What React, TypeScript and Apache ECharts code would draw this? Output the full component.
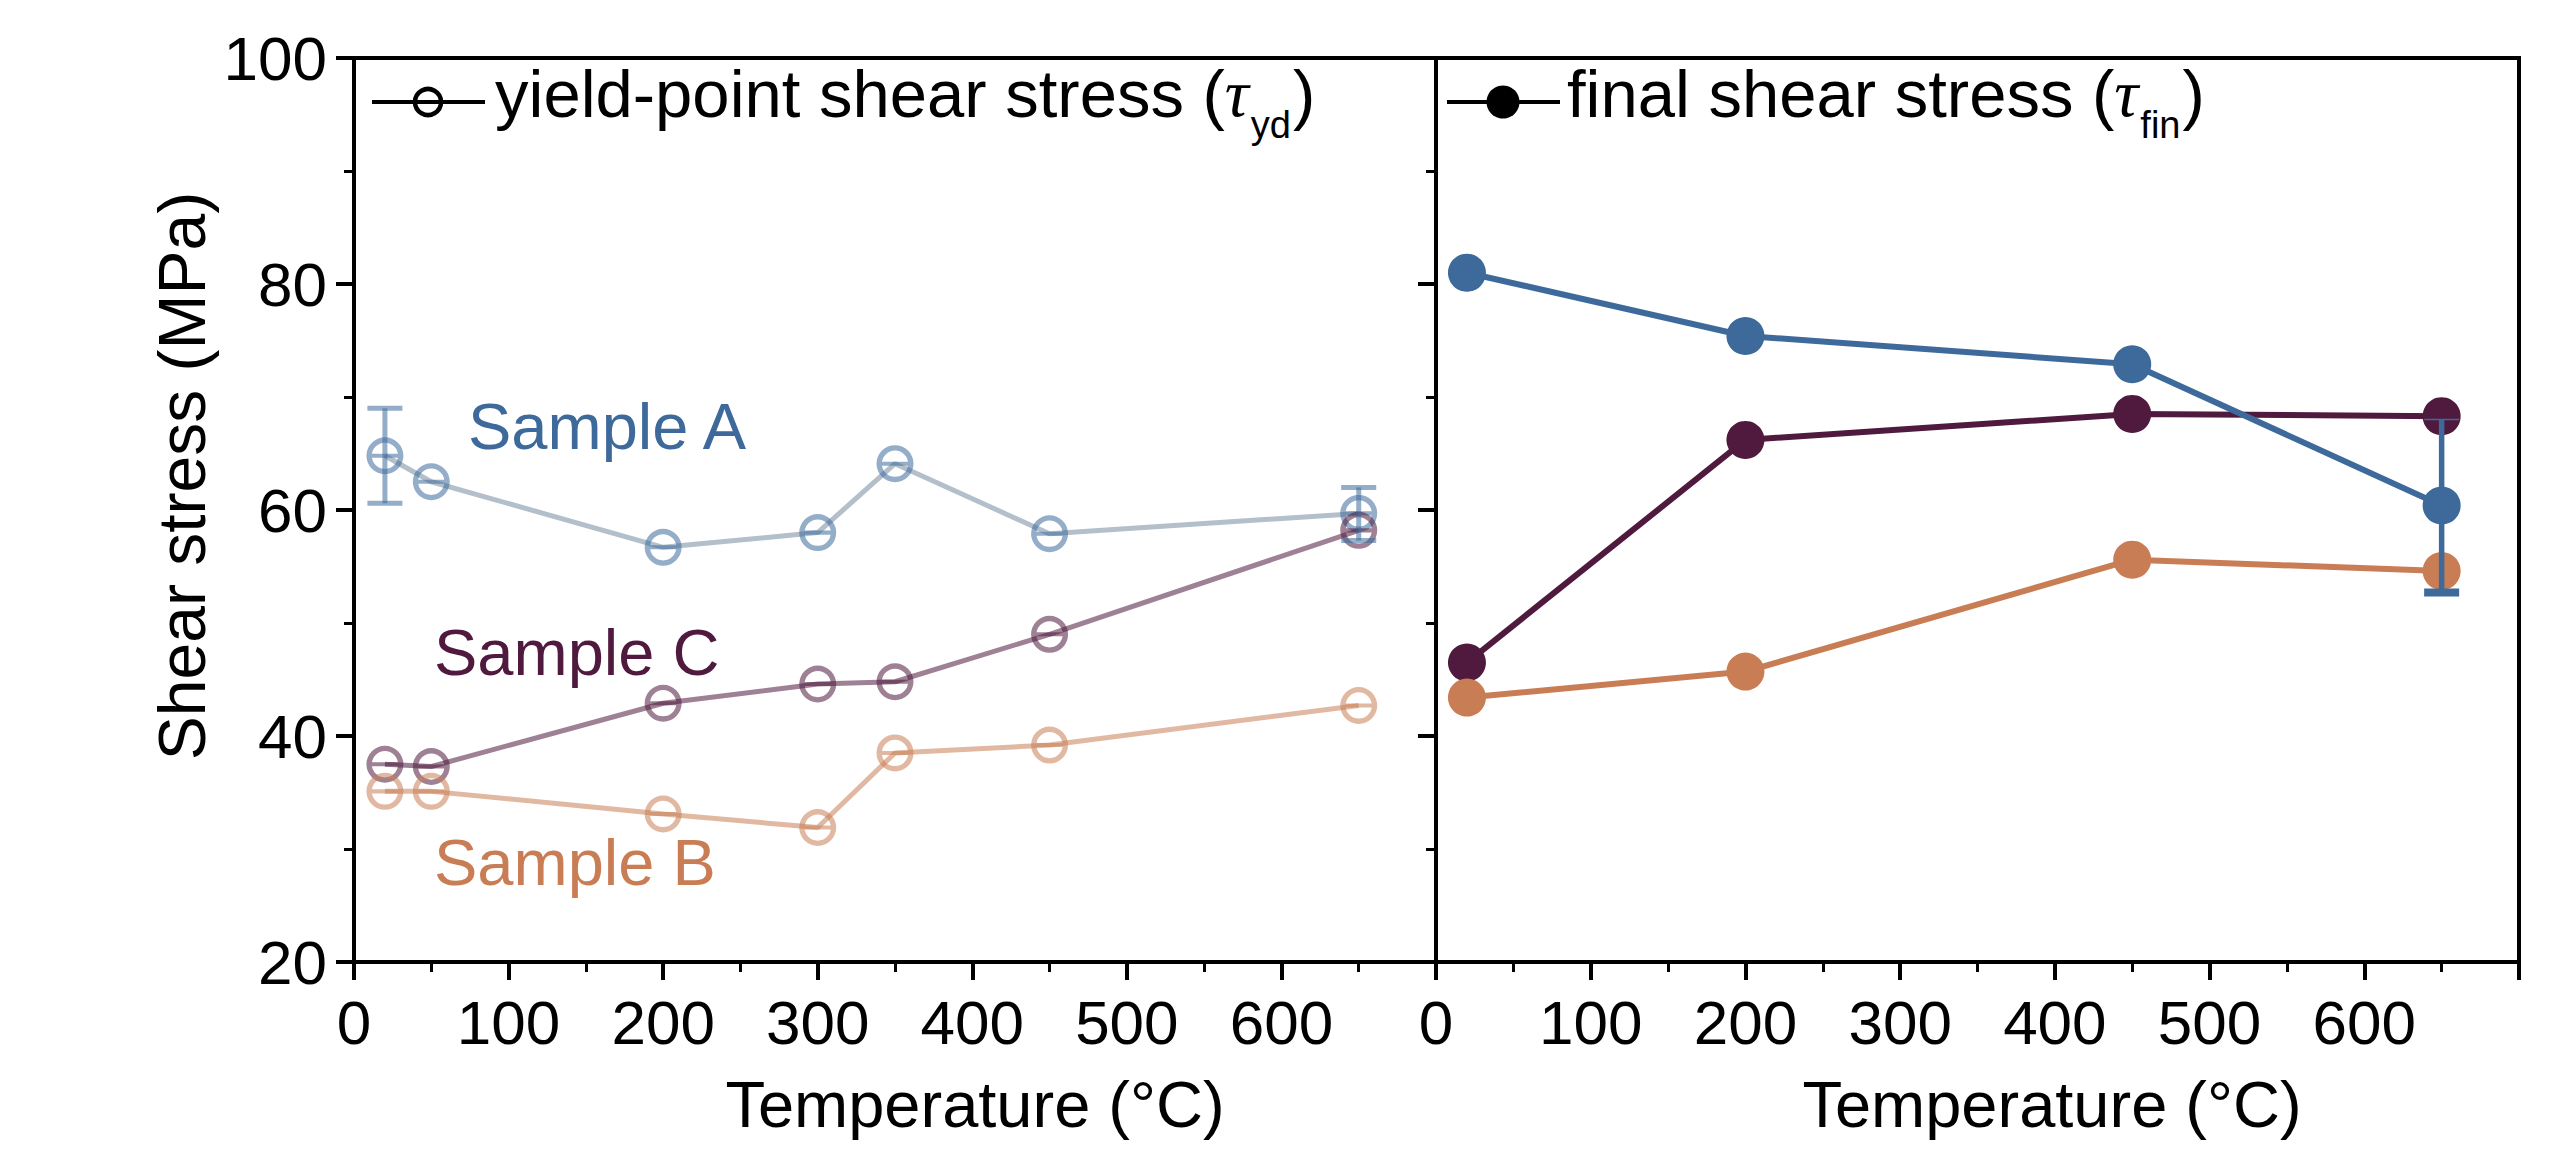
import React, { useEffect, useRef } from 'react';
import * as echarts from 'echarts';

// ---------------- data ----------------
const yieldTemps = [20, 50, 200, 300, 350, 450, 650];
const yieldA = [64.8, 62.5, 56.7, 58.0, 64.1, 57.9, 59.7];
const yieldB = [35.1, 35.1, 33.1, 31.9, 38.5, 39.2, 42.7];
const yieldC = [37.5, 37.3, 42.9, 44.6, 44.8, 49.0, 58.2];
const yieldAErrTemps = [20, 650];
const yieldAErrLow = [60.6, 57.3];
const yieldAErrHigh = [69.0, 62.0];

const finalTemps = [20, 200, 450, 650];
const finalA = [81.0, 75.4, 72.9, 60.4];
const finalB = [43.4, 45.7, 55.6, 54.6];
const finalC = [46.5, 66.2, 68.5, 68.3];
const finalAErrTemps = [650];
const finalAErrLow = [52.7];
const finalAErrHigh = [68.0];

const xMin = 0;
const xMax = 700;
const xStep = 100;
const yMin = 20;
const yMax = 100;
const yStep = 20;

const sampleLabels = ['Sample A', 'Sample C', 'Sample B'];
const yieldLegend = 'yield-point shear stress (';
const finalLegend = 'final shear stress (';
const xTitle = 'Temperature (°C)';
const yTitle = 'Shear stress (MPa)';

// ---------------- styles ----------------
const FONT = '"Liberation Sans", Arial, Helvetica, sans-serif';
const BLUE = '#3d6a9a';
const PURPLE = '#4f1a3d';
const ORANGE = '#c97d55';
const BLUE_T = 'rgba(61,106,154,0.55)';
const PURPLE_T = 'rgba(79,26,61,0.55)';
const ORANGE_T = 'rgba(201,125,85,0.55)';
const A_LINE = '#b3bfcb';

const RING =
  'path://M0,10A10,10,0,1,1,20,10A10,10,0,1,1,0,10Z' +
  'M2.9,10A7.1,7.1,0,1,0,17.1,10A7.1,7.1,0,1,0,2.9,10Z' +
  'M2.9,8.9L17.1,8.9L17.1,11.1L2.9,11.1Z';

const pairs = (xs: number[], ys: number[]) => xs.map((x, i) => [x, ys[i]]);
const triples = (xs: number[], lo: number[], hi: number[]) => xs.map((x, i) => [x, lo[i], hi[i]]);

function makeErr(color: string, lw: number, capW: number, capTopLw: number, capBotLw: number) {
  return (params: any, api: any) => {
    const x = api.value(0);
    const pLo = api.coord([x, api.value(1)]);
    const pHi = api.coord([x, api.value(2)]);
    const children: any[] = [
      { type: 'line', shape: { x1: pLo[0], y1: pLo[1], x2: pHi[0], y2: pHi[1] }, style: { stroke: color, lineWidth: lw } },
    ];
    if (capTopLw > 0)
      children.push({ type: 'line', shape: { x1: pHi[0] - capW / 2, y1: pHi[1], x2: pHi[0] + capW / 2, y2: pHi[1] }, style: { stroke: color, lineWidth: capTopLw } });
    if (capBotLw > 0)
      children.push({ type: 'line', shape: { x1: pLo[0] - capW / 2, y1: pLo[1], x2: pLo[0] + capW / 2, y2: pLo[1] }, style: { stroke: color, lineWidth: capBotLw } });
    return { type: 'group', children };
  };
}

function xAxisCfg(gridIndex: number) {
  return {
    type: 'value',
    gridIndex,
    min: xMin,
    max: xMax,
    interval: xStep,
    axisLine: { show: true, onZero: false, lineStyle: { color: '#000', width: 4 } },
    axisTick: { show: true, length: 18, lineStyle: { color: '#000', width: 4 } },
    minorTick: { show: true, splitNumber: 2, length: 10, lineStyle: { color: '#000', width: 3 } },
    splitLine: { show: false },
    minorSplitLine: { show: false },
    axisLabel: {
      show: true,
      margin: 29,
      fontSize: 62,
      color: '#000',
      fontFamily: FONT,
      formatter: (v: number) => (v === xMax ? '' : String(v)),
    },
  };
}

function yAxisCfg(gridIndex: number, showLabels: boolean) {
  return {
    type: 'value',
    gridIndex,
    min: yMin,
    max: yMax,
    interval: yStep,
    axisLine: { show: true, onZero: false, lineStyle: { color: '#000', width: 4 } },
    axisTick: { show: true, length: 18, lineStyle: { color: '#000', width: 4 } },
    minorTick: { show: true, splitNumber: 2, length: 10, lineStyle: { color: '#000', width: 3 } },
    splitLine: { show: false },
    minorSplitLine: { show: false },
    axisLabel: { show: showLabels, margin: 27, fontSize: 62, color: '#000', fontFamily: FONT },
  };
}

function yieldSeries(name: string, ys: number[], lineColor: string, markColor: string) {
  return {
    type: 'line',
    name,
    xAxisIndex: 0,
    yAxisIndex: 0,
    data: pairs(yieldTemps, ys),
    symbol: RING,
    symbolSize: 37,
    lineStyle: { color: lineColor, width: 5 },
    itemStyle: { color: markColor, borderWidth: 0 },
    emphasis: { disabled: true },
    silent: true,
    z: 2,
  };
}

function finalSeries(name: string, ys: number[], color: string) {
  return {
    type: 'line',
    name,
    xAxisIndex: 1,
    yAxisIndex: 1,
    data: pairs(finalTemps, ys),
    symbol: 'circle',
    symbolSize: 38,
    lineStyle: { color, width: 6 },
    itemStyle: { color, borderWidth: 0 },
    emphasis: { disabled: true },
    silent: true,
    z: 2,
  };
}

const LEG = 67;
const richFor = () => ({
  n: { fontSize: LEG, fontFamily: FONT, fill: '#000' },
  t: { fontSize: LEG, fontFamily: '"Liberation Serif", "DejaVu Serif", serif', fontStyle: 'italic', fill: '#000' },
  s: { fontSize: 38, fontFamily: FONT, fill: '#000', padding: [64, 2, 0, 2] },
});

export default function App() {
  const ref = useRef<HTMLDivElement>(null);

  useEffect(() => {
    if (!ref.current) return;
    const chart = echarts.init(ref.current, undefined, { renderer: 'svg' });
    const option: any = {
      animation: false,
      backgroundColor: '#fff',
      grid: [
        { left: 354, top: 58, width: 1082, height: 904, show: true, borderColor: '#000', borderWidth: 4, backgroundColor: 'transparent' },
        { left: 1436, top: 58, width: 1083, height: 904, show: true, borderColor: '#000', borderWidth: 4, backgroundColor: 'transparent' },
      ],
      xAxis: [xAxisCfg(0), xAxisCfg(1)],
      yAxis: [yAxisCfg(0, true), yAxisCfg(1, false)],
      series: [
        yieldSeries('A yield', yieldA, A_LINE, BLUE_T),
        yieldSeries('C yield', yieldC, PURPLE_T, PURPLE_T),
        yieldSeries('B yield', yieldB, ORANGE_T, ORANGE_T),
        {
          type: 'custom',
          xAxisIndex: 0,
          yAxisIndex: 0,
          data: triples(yieldAErrTemps, yieldAErrLow, yieldAErrHigh),
          encode: { x: 0, y: [1, 2] },
          renderItem: makeErr(BLUE_T, 5, 35, 5, 5),
          silent: true,
          z: 5,
        },
        finalSeries('C final', finalC, PURPLE),
        finalSeries('B final', finalB, ORANGE),
        finalSeries('A final', finalA, BLUE),
        {
          type: 'custom',
          xAxisIndex: 1,
          yAxisIndex: 1,
          data: triples(finalAErrTemps, finalAErrLow, finalAErrHigh),
          encode: { x: 0, y: [1, 2] },
          renderItem: makeErr(BLUE, 5.5, 35, 1.5, 8),
          silent: true,
          z: 5,
        },
      ],
      graphic: [
        // left legend
        { type: 'line', shape: { x1: 372, y1: 102, x2: 485, y2: 102 }, style: { stroke: '#000', lineWidth: 4 } },
        { type: 'circle', shape: { cx: 428, cy: 102, r: 13 }, style: { stroke: '#000', lineWidth: 4.5, fill: 'none' } },
        {
          type: 'text',
          x: 495,
          y: 93,
          style: { text: `{n|${yieldLegend}}{t|τ}{s|yd}{n|)}`, rich: richFor(), verticalAlign: 'middle', align: 'left', fill: '#000' },
        },
        // right legend
        { type: 'line', shape: { x1: 1447, y1: 102, x2: 1560, y2: 102 }, style: { stroke: '#000', lineWidth: 4 } },
        { type: 'circle', shape: { cx: 1503, cy: 102, r: 16.5 }, style: { fill: '#000' } },
        {
          type: 'text',
          x: 1567,
          y: 93,
          style: { text: `{n|${finalLegend}}{t|τ}{s|fin}{n|)}`, rich: richFor(), verticalAlign: 'middle', align: 'left', fill: '#000' },
        },
        // sample labels
        { type: 'text', x: 468, y: 426, style: { text: sampleLabels[0], fontSize: 65, fontFamily: FONT, fill: BLUE, verticalAlign: 'middle' } },
        { type: 'text', x: 434, y: 652, style: { text: sampleLabels[1], fontSize: 65, fontFamily: FONT, fill: PURPLE, verticalAlign: 'middle' } },
        { type: 'text', x: 434, y: 862, style: { text: sampleLabels[2], fontSize: 65, fontFamily: FONT, fill: ORANGE, verticalAlign: 'middle' } },
        // axis titles
        { type: 'text', x: 975, y: 1104, style: { text: xTitle, fontSize: 65, fontFamily: FONT, fill: '#000', align: 'center', verticalAlign: 'middle' } },
        { type: 'text', x: 2052, y: 1104, style: { text: xTitle, fontSize: 65, fontFamily: FONT, fill: '#000', align: 'center', verticalAlign: 'middle' } },
        {
          type: 'text',
          x: 182,
          y: 476,
          rotation: Math.PI / 2,
          style: { text: yTitle, fontSize: 66, fontFamily: FONT, fill: '#000', align: 'center', verticalAlign: 'middle' },
        },
      ],
    };
    chart.setOption(option);
    return () => chart.dispose();
  }, []);

  return (
    <div
      ref={ref}
      style={{ position: 'absolute', left: 0, top: 0, width: 2554, height: 1153, background: '#fff' }}
    />
  );
}
